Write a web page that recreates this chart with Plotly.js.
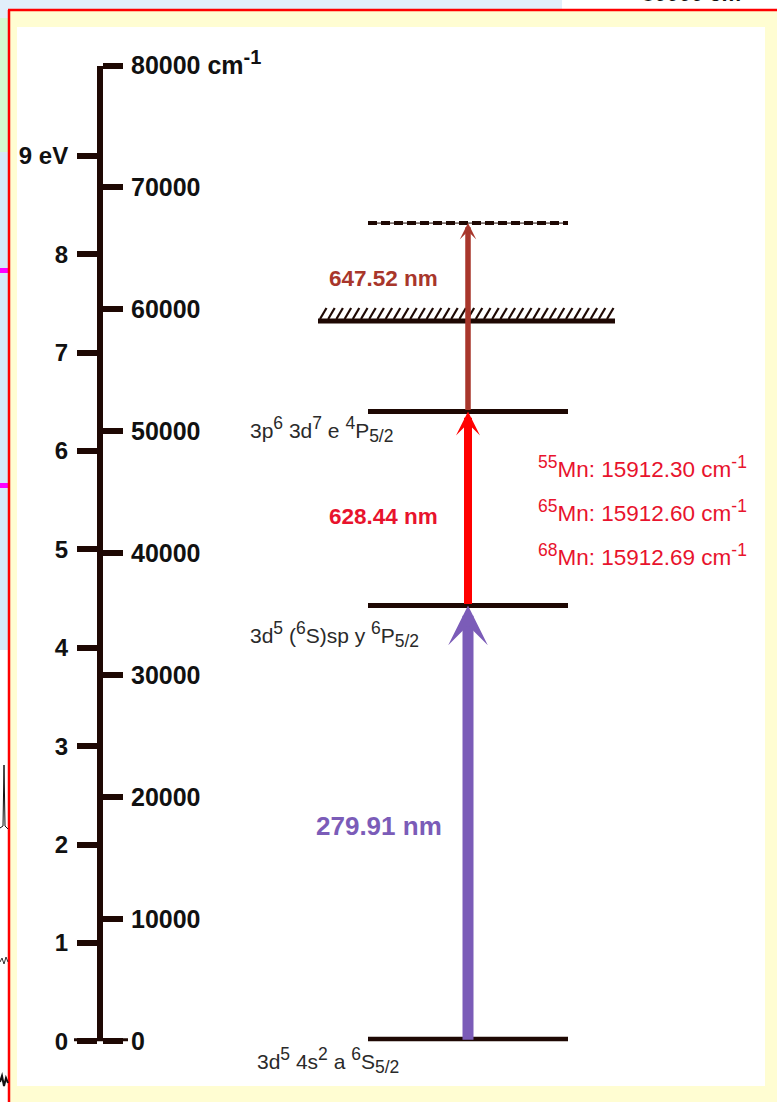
<!DOCTYPE html>
<html>
<head>
<meta charset="utf-8">
<script src="https://cdn.plot.ly/plotly-3.0.1.min.js"></script>
<style>
  html, body { margin: 0; padding: 0; background: #e1eefa; }
  #chart { width: 777px; height: 1102px; }
</style>
</head>
<body>
<div id="chart"></div>
<script>
// ---- energy scale ----
const cmTicks = [0, 10000, 20000, 30000, 40000, 50000, 60000, 70000, 80000];
const cmTickText = ['0', '10000', '20000', '30000', '40000', '50000', '60000', '70000',
  '80000 cm<sup><span style="font-size:20px">-1</span></sup>'];
const eVTicks = [0, 1, 2, 3, 4, 5, 6, 7, 8, 9];
const eVTickText = ['0', '1', '2', '3', '4', '5', '6', '7', '8', '9 eV'];
const CM_PER_EV = 8065.54;

// ---- excitation scheme (vacuum wavelengths, nm) ----
const stepWavelengths = [279.91, 628.44, 647.52];
const stepLabels = ['279.91 nm', '628.44 nm', '647.52 nm'];

// ---- isotope shifts of the second step ----
const isotopeMass = ['55', '65', '68'];
const isotopeWavenumber = [15912.30, 15912.60, 15912.69];

// ---- levels ----
// superscripts/subscripts are written as {x} / [x] and expanded below
const levelNames = [
  '3d{5} 4s{2} a {6}S[5/2]',
  '3d{5} ({6}S)sp y {6}P[5/2]',
  '3p{6} 3d{7} e {4}P[5/2]'
];
const ionizationLimit = 59050; // cm-1

// level energies built from the step wavelengths
const E0 = 0;
const E1 = 1e7 / stepWavelengths[0];
const E2 = E1 + isotopeWavenumber[0];
const E3 = E2 + 1e7 / stepWavelengths[2];
const levels = [E0, E1, E2];

// ---- styling ----
const W = 777, H = 1102;
const axisTop = 65.5, axisBottom = 1041.3;           // pixel extent of the energy axis
const dom = [1 - axisBottom / H, 1 - axisTop / H];
const cmPerPx = 80000 / (axisBottom - axisTop);
const ink = '#1e0803';
const purple = '#7b5cb8', red = '#ff0000', brown = '#a8362b';
const labelRed = '#e8132d';
const axisX = 100;
const lvlX = [368, 568];
const arrowX = 468;
const px = x => x / W;
const py = y => 1 - y / H;

const sansReg = 'Liberation Sans, Arial, sans-serif';

// larger-than-default raised / lowered text
const scriptSize = 17.5;
const expand = s => s
  .replace(/\{([^}]*)\}/g, '<sup><span style="font-size:' + scriptSize + 'px">$1</span></sup>')
  .replace(/\[([^\]]*)\]/g, '<sub><span style="font-size:' + scriptSize + 'px">$1</span></sub>');

const traces = [];

// level bars
levels.forEach((e, i) => {
  traces.push({
    type: 'scatter', mode: 'lines', x: lvlX, y: [e, e],
    line: { color: ink, width: i === 0 ? 9 : 5 }, hoverinfo: 'skip', showlegend: false
  });
});

// upper (virtual) level: dashed
traces.push({
  type: 'scatter', mode: 'lines', x: lvlX, y: [E3, E3],
  line: { color: ink, width: 1 }, hoverinfo: 'skip', showlegend: false
});
traces.push({
  type: 'scatter', mode: 'lines', x: lvlX, y: [E3, E3],
  line: { color: ink, width: 4, dash: '9px,4px' }, hoverinfo: 'skip', showlegend: false
});

// ionization limit with hatching
const hatchSpan = [318, 615];
traces.push({
  type: 'scatter', mode: 'lines', x: hatchSpan, y: [ionizationLimit, ionizationLimit],
  line: { color: ink, width: 5 }, hoverinfo: 'skip', showlegend: false
});
const hx = [], hy = [];
for (let x = hatchSpan[0] + 2; x + 6 <= hatchSpan[1] + 3; x += 8.2) {
  hx.push(x, x + 6.5, null);
  hy.push(ionizationLimit + 2 * cmPerPx, ionizationLimit + 13 * cmPerPx, null);
}
traces.push({
  type: 'scatter', mode: 'lines', x: hx, y: hy,
  line: { color: ink, width: 2.2 }, hoverinfo: 'skip', showlegend: false
});

// longer zero tick across the axis (on the eV axis so that axis is built too)
traces.push({
  type: 'scatter', mode: 'lines', x: [74, 128], y: [eVTicks[0], eVTicks[0]], yaxis: 'y2',
  line: { color: ink, width: 6 }, hoverinfo: 'skip', showlegend: false
});

// ---- annotations ----
const ann = [];
const arrow = (from, to, color, w, size) => ({
  x: arrowX, y: to, ax: arrowX, ay: from, xref: 'x', yref: 'y', axref: 'x', ayref: 'y',
  text: '', showarrow: true, arrowhead: 3, arrowwidth: w, arrowsize: size,
  arrowcolor: color, standoff: 0, startstandoff: 0
});
ann.push(arrow(E0, E1, purple, 11, 0.6));
ann.push(arrow(E1, E2, red, 8, 0.5));
ann.push(arrow(E2, E3, brown, 5.5, 0.5));

// step wavelengths
ann.push({ x: 379, y: py(826), xref: 'x', yref: 'paper', text: stepLabels[0], showarrow: false,
  font: { family: sansReg, size: 26, weight: 'bold', color: purple }, xanchor: 'center', yanchor: 'middle' });
ann.push({ x: 383, y: py(516), xref: 'x', yref: 'paper', text: stepLabels[1], showarrow: false,
  font: { family: sansReg, size: 22.5, weight: 'bold', color: labelRed }, xanchor: 'center', yanchor: 'middle' });
ann.push({ x: 383, y: py(278), xref: 'x', yref: 'paper', text: stepLabels[2], showarrow: false,
  font: { family: sansReg, size: 22.5, weight: 'bold', color: brown }, xanchor: 'center', yanchor: 'middle' });

// isotope lines
isotopeMass.forEach((m, i) => {
  ann.push({ x: 536, y: py(467 + 44 * i), xref: 'x', yref: 'paper',
    text: expand('{' + m + '}Mn: ' + isotopeWavenumber[i].toFixed(2) + ' cm{-1}'),
    showarrow: false, font: { family: sansReg, size: 22.5, color: labelRed }, xanchor: 'left', yanchor: 'middle' });
});

// level designations
const levelLabelPos = [[255, 1060], [248, 634], [248, 430]];
levels.forEach((e, i) => {
  ann.push({ x: levelLabelPos[i][0], y: py(levelLabelPos[i][1]), xref: 'x', yref: 'paper', text: expand(levelNames[i]),
    showarrow: false, font: { family: sansReg, size: 21, color: '#2a2a2a' }, xanchor: 'left', yanchor: 'middle' });
});

// clipped heading of the neighbouring panel
ann.push({ x: 640, y: py(8), xref: 'x', yref: 'paper', text: '80000 cm<sup>-1</sup>', showarrow: false,
  font: { family: sansReg, size: 22, weight: 'bold', color: '#111' }, xanchor: 'left', yanchor: 'bottom' });

// ---- page furniture ----
const rect = (x0, y0, x1, y1, color) => ({ type: 'rect', xref: 'paper', yref: 'paper',
  x0: px(x0), x1: px(x1), y0: py(y0), y1: py(y1), fillcolor: color, line: { width: 0 }, layer: 'below' });
const line = (x0, y0, x1, y1, color, w) => ({ type: 'line', xref: 'paper', yref: 'paper',
  x0: px(x0), x1: px(x1), y0: py(y0), y1: py(y1), line: { color: color, width: w }, layer: 'below' });
const shapes = [
  rect(562, 0, 777, 10, '#ffffff'),
  rect(0, 18, 8.5, 152, '#d4facf'),
  rect(0, 152, 8.5, 650, '#d6e9f9'),
  rect(0, 650, 8.5, 1102, '#ffffff'),
  rect(0, 268, 8.5, 273, '#ff00ff'),
  rect(0, 483, 8.5, 488, '#ff00ff'),
  rect(9, 10, 777, 1102, '#fffdd2'),
  rect(17, 27, 765, 1086, '#ffffff'),
  line(8, 10, 777, 10, '#ff0000', 2.5),
  line(9, 10, 9, 1102, '#ff0000', 2.5),
  { type: 'path', xref: 'paper', yref: 'paper', layer: 'below', line: { color: '#111', width: 1 },
    path: 'M' + px(0) + ',' + py(828) + 'L' + px(3) + ',' + py(826) + 'L' + px(4) + ',' + py(765) +
          'L' + px(5) + ',' + py(826) + 'L' + px(8) + ',' + py(829) },
  { type: 'path', xref: 'paper', yref: 'paper', layer: 'below', line: { color: '#333', width: 1 },
    path: 'M' + px(0) + ',' + py(962) + 'L' + px(2) + ',' + py(958) + 'L' + px(4) + ',' + py(964) +
          'L' + px(6) + ',' + py(957) + 'L' + px(8) + ',' + py(962) },
  { type: 'path', xref: 'paper', yref: 'paper', layer: 'below', line: { color: '#111', width: 2 },
    path: 'M' + px(0) + ',' + py(1082) + 'L' + px(2) + ',' + py(1076) + 'L' + px(4) + ',' + py(1086) +
          'L' + px(6) + ',' + py(1078) + 'L' + px(8) + ',' + py(1083) }
];

const axisCommon = {
  domain: dom, anchor: 'free', position: px(axisX), showline: true, linewidth: 6, linecolor: ink,
  ticks: 'outside', ticklen: 20, tickwidth: 6, tickcolor: ink, showgrid: false, zeroline: false,
  fixedrange: true, tickmode: 'array'
};

const layout = {
  width: W, height: H, margin: { l: 0, r: 0, t: 0, b: 0, pad: 0 },
  paper_bgcolor: '#e1eefa', plot_bgcolor: 'rgba(0,0,0,0)', showlegend: false,
  xaxis: { range: [0, W], domain: [0, 1], visible: false, fixedrange: true },
  yaxis: Object.assign({}, axisCommon, {
    range: [0, 80000], side: 'right', tickvals: cmTicks, ticktext: cmTickText,
    tickfont: { family: sansReg, size: 25, weight: 'bold', color: '#111' }, ticklabelstandoff: 3
  }),
  yaxis2: Object.assign({}, axisCommon, {
    overlaying: 'y', range: [0, 80000 / CM_PER_EV], side: 'left', tickvals: eVTicks, ticktext: eVTickText,
    tickfont: { family: sansReg, size: 24, weight: 'bold', color: '#111' }, ticklabelstandoff: 4
  }),
  shapes: shapes,
  annotations: ann
};

Plotly.newPlot('chart', traces, layout, { staticPlot: true, displayModeBar: false });
</script>
</body>
</html>
